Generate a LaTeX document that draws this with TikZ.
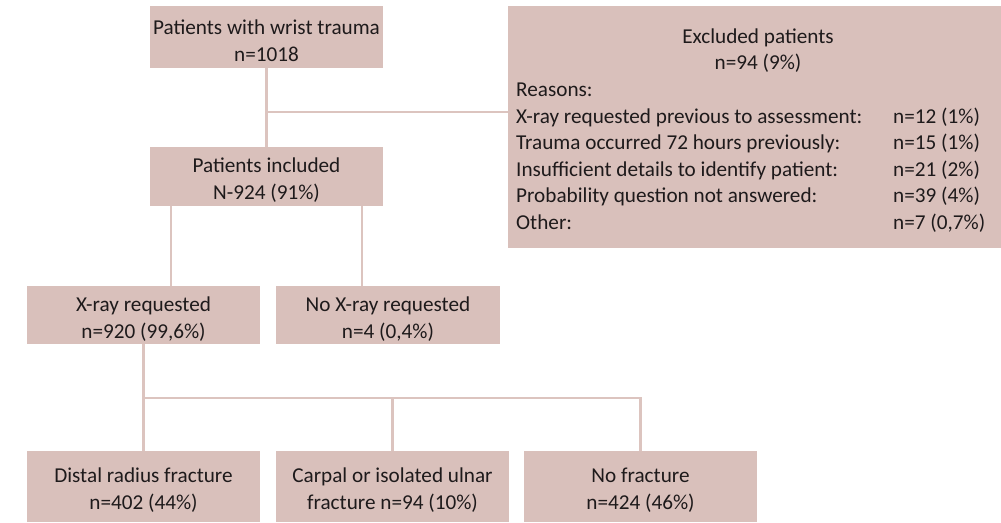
\documentclass[tikz,border=0pt]{standalone}
\usepackage{fontspec}
\setmainfont{Carlito}
\definecolor{boxfill}{RGB}{217,192,187}
\definecolor{linkcol}{RGB}{220,196,191}
\definecolor{ink}{RGB}{30,26,27}
\begin{document}
\begin{tikzpicture}[x=1pt,y=-1pt,
  font=\fontsize{21.2}{27}\selectfont,
  flowbox/.style={fill=boxfill,draw=none,inner sep=0pt},
  boxtext/.style={inner sep=0pt,align=center,text=ink,yshift=-4pt},
  link/.style={draw=linkcol,line width=2.7pt},
  reason/.style={anchor=base west,inner sep=0pt,text=ink},
  count/.style={anchor=base west,inner sep=0pt,text=ink}]
\useasboundingbox (0,0) rectangle (1001,522);

% boxes
\node[flowbox,minimum width=233pt,minimum height=62pt] (trauma) at (266.5,37) {};
\node[flowbox,minimum width=233pt,minimum height=59pt] (incl) at (266.5,176.5) {};
\node[flowbox,minimum width=493pt,minimum height=242pt] (excl) at (754.5,127) {};
\node[flowbox,minimum width=233pt,minimum height=58pt] (xray) at (143.5,315) {};
\node[flowbox,minimum width=224pt,minimum height=58pt] (noxray) at (388,315) {};
\node[flowbox,minimum width=233pt,minimum height=71pt] (distal) at (143.5,486.5) {};
\node[flowbox,minimum width=233pt,minimum height=71pt] (carpal) at (392.5,486.5) {};
\node[flowbox,minimum width=233pt,minimum height=71pt] (nofrac) at (640.5,486.5) {};

% box texts
\node[boxtext] (traumatxt) at (trauma.center) {Patients with wrist trauma\\n=1018};
\node[boxtext] (incltxt) at (incl.center) {Patients included\\N-924 (91\%)};
\node[boxtext] (xraytxt) at (xray.center) {X-ray requested\\n=920 (99,6\%)};
\node[boxtext] (noxraytxt) at (noxray.center) {No X-ray requested\\n=4 (0,4\%)};
\node[boxtext] (distaltxt) at (distal.center) {Distal radius fracture\\n=402 (44\%)};
\node[boxtext] (carpaltxt) at (carpal.center) {Carpal or isolated ulnar\\fracture n=94 (10\%)};
\node[boxtext] (nofractxt) at (nofrac.center) {No fracture\\n=424 (46\%)};

% exclusion details
\node[anchor=base,inner sep=0pt,text=ink] (exttl) at (758,43) {Excluded patients};
\node[anchor=base,inner sep=0pt,text=ink] (exn) at (758,69) {n=94 (9\%)};
\node[reason] (r0) at (516,96) {Reasons:};
\node[reason] (r1) at (516,123) {X-ray requested previous to assessment:};
\node[reason] (r2) at (516,149) {Trauma occurred 72 hours previously:};
\node[reason] (r3) at (516,176) {Insufficient details to identify patient:};
\node[reason] (r4) at (516,202) {Probability question not answered:};
\node[reason] (r5) at (516,229) {Other:};
\node[count] (c1) at (893,123) {n=12 (1\%)};
\node[count] (c2) at (893,149) {n=15 (1\%)};
\node[count] (c3) at (893,176) {n=21 (2\%)};
\node[count] (c4) at (893,202) {n=39 (4\%)};
\node[count] (c5) at (893,229) {n=7 (0,7\%)};

% junctions
\coordinate (exjoin) at (266.5,112);
\coordinate (lbranch) at (171,0);
\coordinate (rbranch) at (362,0);
\coordinate (bus) at (0,398);

% connectors
\draw[link] (trauma.south) -- (incl.north);
\draw[link] (exjoin) -- (exjoin -| excl.west);
\draw[link] (lbranch |- incl.south) -- (lbranch |- xray.north);
\draw[link] (rbranch |- incl.south) -- (rbranch |- noxray.north);
\draw[link] (xray.south) -- (distal.north);
\draw[link] (xray.south |- bus) -- (nofrac.north |- bus) -- (nofrac.north);
\draw[link] (carpal.north |- bus) -- (carpal.north);
\end{tikzpicture}
\end{document}
